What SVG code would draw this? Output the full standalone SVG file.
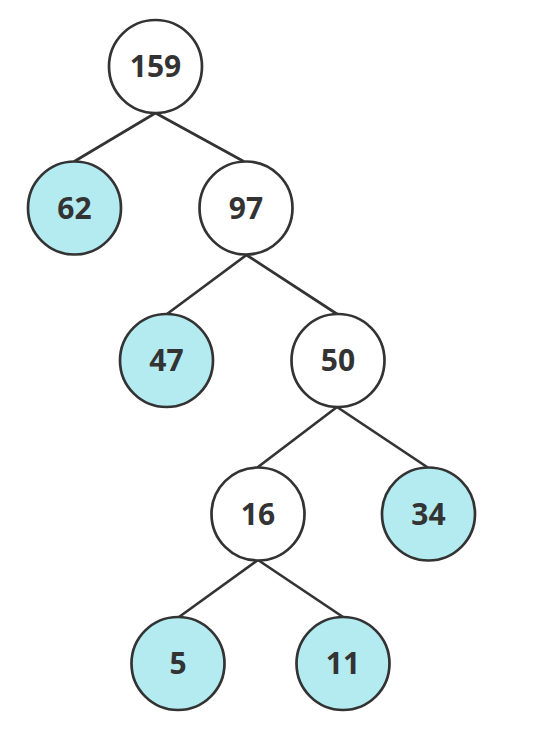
<svg xmlns="http://www.w3.org/2000/svg" width="533" height="736" viewBox="0 0 533 736">
<style>
.n circle{stroke:#333;stroke-width:2.7;fill:#fff}
.n.leaf circle{fill:#b3ebf0}
.n text{font-family:"Open Sans","Noto Sans","Liberation Sans",sans-serif;font-weight:bold;font-size:30px;fill:#333;text-anchor:middle;dominant-baseline:central}
#edges line{stroke:#333;stroke-width:2.7;stroke-linecap:round}
</style>
<rect width="533" height="736" fill="#fff"/>
<g id="edges">
<line x1="155.5" y1="113" x2="75" y2="161"/>
<line x1="155.5" y1="113" x2="243" y2="161"/>
<line x1="246.5" y1="255" x2="167" y2="314"/>
<line x1="246.5" y1="255" x2="337" y2="314"/>
<line x1="337" y1="407" x2="258" y2="467"/>
<line x1="337" y1="407" x2="427" y2="467"/>
<line x1="258" y1="560" x2="179" y2="617"/>
<line x1="258" y1="560" x2="343" y2="617"/>
</g>
<g id="n159" class="n"><circle cx="155.5" cy="66.5" r="46.5"/><text x="155.5" y="65.5">159</text></g>
<g id="n62" class="n leaf"><circle cx="74.5" cy="208" r="46.5"/><text x="74.5" y="207">62</text></g>
<g id="n97" class="n"><circle cx="246" cy="208" r="46.5"/><text x="246" y="207">97</text></g>
<g id="n47" class="n leaf"><circle cx="166.5" cy="360.5" r="46.5"/><text x="166.5" y="359.5">47</text></g>
<g id="n50" class="n"><circle cx="338" cy="360.5" r="46.5"/><text x="338" y="359.5">50</text></g>
<g id="n16" class="n"><circle cx="258" cy="514" r="46.5"/><text x="258" y="513">16</text></g>
<g id="n34" class="n leaf"><circle cx="428.5" cy="514" r="46.5"/><text x="428.5" y="513">34</text></g>
<g id="n5" class="n leaf"><circle cx="178" cy="663.5" r="46.5"/><text x="178" y="662.5">5</text></g>
<g id="n11" class="n leaf"><circle cx="343" cy="663.5" r="46.5"/><text x="343" y="662.5">11</text></g>
</svg>
